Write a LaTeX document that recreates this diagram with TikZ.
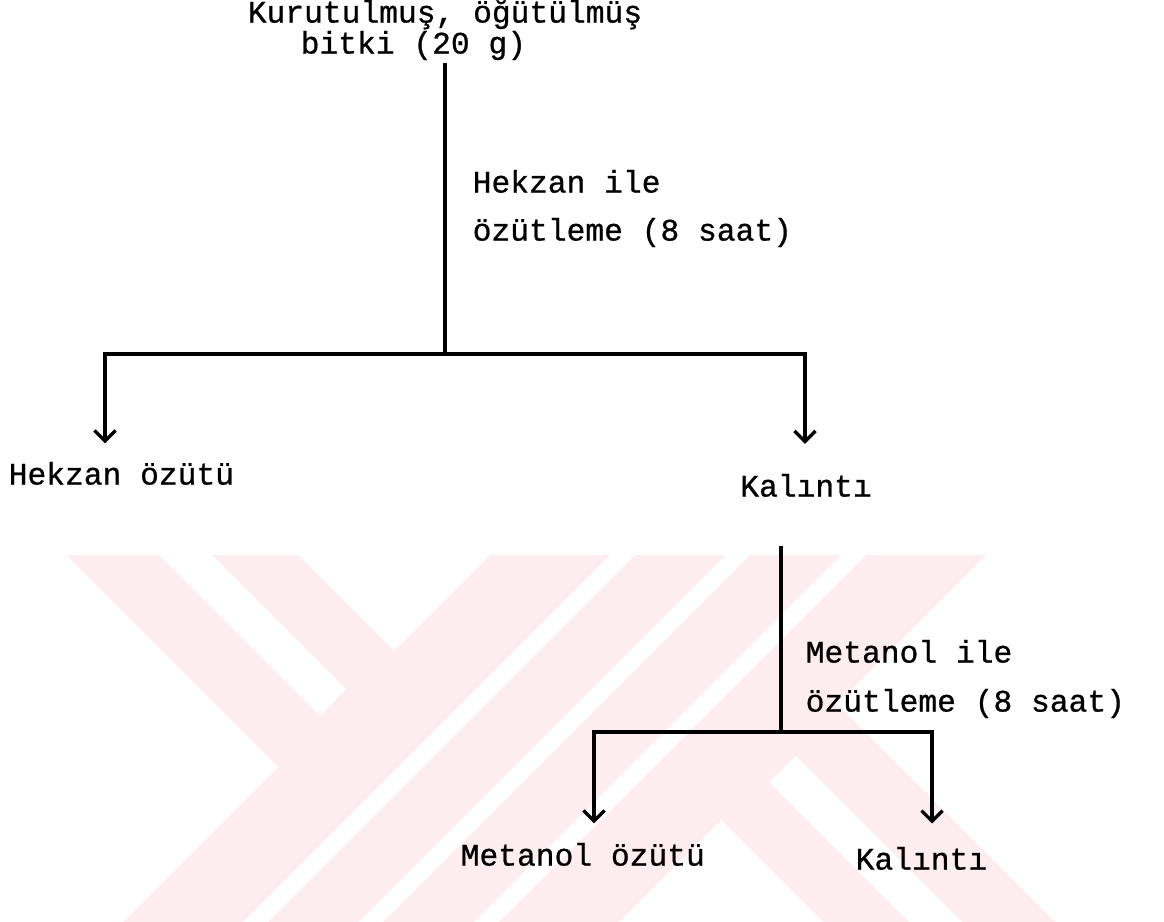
\documentclass[tikz,border=0pt]{standalone}
\usepackage{fontspec}
\newfontfamily\daktilo[FakeBold=0.8]{Liberation Mono}
\usetikzlibrary{arrows.meta}
\definecolor{filigran}{RGB}{253,237,240}

\begin{document}
\begin{tikzpicture}[
  x=0.01cm, y=-0.01cm,
  yazi/.style={font=\daktilo\fontsize{8.9}{10}\selectfont, inner sep=0pt,
    text height=0.75em, text depth=0.25em, anchor=mid west},
  cizgi/.style={line width=0.95pt},
  ok/.style={cizgi, -{Straight Barb[length=3pt,width=6pt]}},
]
\useasboundingbox (0,0) rectangle (1164,922);

\begin{scope}
\clip (0,556) rectangle (1164,922);
\fill[filigran] (-89,400) -- (278,767) -- (394,651) -- (143,400) -- cycle;
\fill[filigran] (645,400) -- (45,1000) -- (541,1000) -- (1141,400) -- cycle;
\fill[filigran] (721,820) -- (1001,1100) -- (1233,1100) -- (837,704) -- cycle;
\fill[white] (4,400) -- (320,716) -- (346,689) -- (57,400) -- cycle;
\fill[white] (769,782) -- (1087,1100) -- (1140,1100) -- (796,756) -- cycle;
\foreach \a/\b in {1165/1190,1281/1305,1396/1421}
  \fill[white] (\a-400,400) -- (\a-1000,1000) -- (\b-1000,1000) -- (\b-400,400) -- cycle;
\end{scope}

\node[yazi, anchor=mid] (kuru) at (445,15) {Kurutulmuş, öğütülmüş};
\node[yazi] (bitki) at (300,46) {bitki (20 g)};
\node[yazi] (hekzanile) at (472,185) {Hekzan ile};
\node[yazi] (ozutleme1) at (472,233) {özütleme (8 saat)};
\node[yazi] (hekzanozu) at (8,477) {Hekzan özütü};
\node[yazi, anchor=mid] (kalinti1) at (806,489) {Kalıntı};
\node[yazi] (metanolile) at (805,655) {Metanol ile};
\node[yazi] (ozutleme2) at (805,704) {özütleme (8 saat)};
\node[yazi] (metanolozu) at (460,858) {Metanol özütü};
\node[yazi] (kalinti2) at (855,862) {Kalıntı};

\coordinate (ayrim1) at (445,354);
\coordinate (sol1) at (105,354);
\coordinate (sag1) at (805,354);
\coordinate (ayrim2) at (781,732);
\coordinate (sol2) at (594,732);
\coordinate (sag2) at (932,732);

\draw[cizgi] (kuru.center |- bitki.south) -- (ayrim1);
\draw[ok, shorten >=4pt] (ayrim1) -- (sol1) -- (hekzanozu.north -| sol1);
\draw[ok, shorten >=7.3pt] (ayrim1) -- (sag1) -- (kalinti1.north -| sag1);
\draw[cizgi, shorten <=11.4pt] (kalinti1.south -| ayrim2) -- (ayrim2);
\draw[ok, shorten >=4.3pt] (ayrim2) -- (sol2) -- (metanolozu.north -| sol2);
\draw[ok, shorten >=5.4pt] (ayrim2) -- (sag2) -- (kalinti2.north -| sag2);
\end{tikzpicture}
\end{document}
